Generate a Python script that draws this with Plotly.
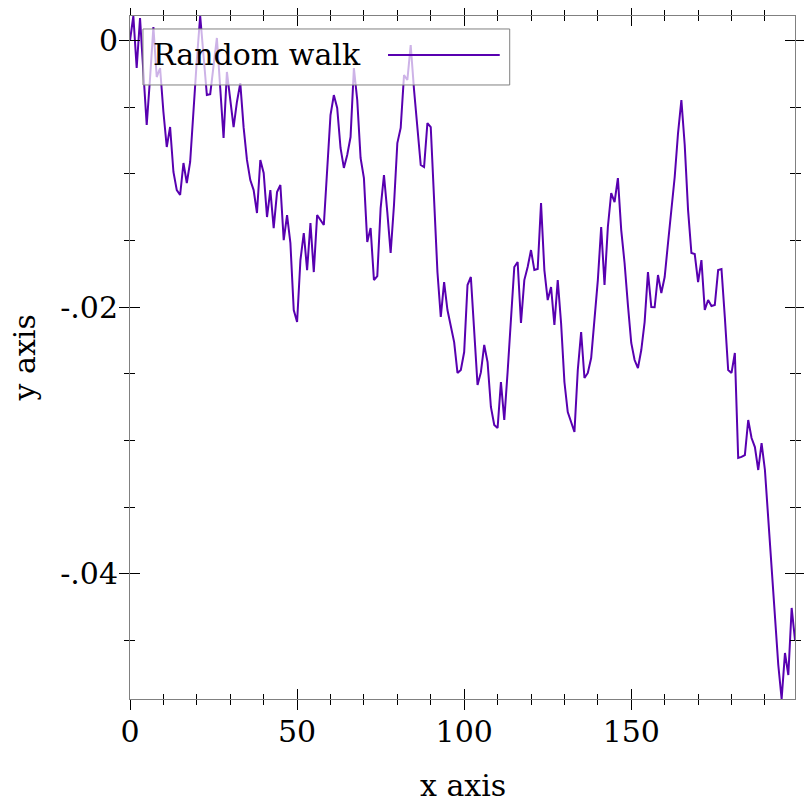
import plotly.graph_objects as go

# random walk, one value per step
walk = [
    0.0, 0.00184, -0.00206, 0.00169, -0.00236, -0.00634, -0.00281, 0.00101, -0.00274, -0.00206,
    -0.00536, -0.00799, -0.00649, -0.00986, -0.01122, -0.01159, -0.00919, -0.01069, -0.00911, -0.00484,
    -0.00146, 0.00184, -0.00131, -0.00409, -0.00402, -0.00184, 0.00019, -0.00356, -0.00731, -0.00236,
    -0.00431, -0.00649, -0.00461, -0.00319, -0.00652, -0.00896, -0.01047, -0.01122, -0.01294, -0.00896,
    -0.00994, -0.01324, -0.01122, -0.01407, -0.01137, -0.01084, -0.01497, -0.01309, -0.01519, -0.02022,
    -0.02112, -0.01647, -0.01444, -0.01722, -0.01369, -0.01737, -0.01309, -0.01347, -0.01384, -0.00971,
    -0.00559, -0.00409, -0.00506, -0.00806, -0.00956, -0.00859, -0.00724, -0.00206, -0.00446, -0.00881,
    -0.01032, -0.01512, -0.01407, -0.01797, -0.01767, -0.01257, -0.01009, -0.01287, -0.01594, -0.01234,
    -0.00769, -0.00656, -0.00259, -0.00296, -0.00034, -0.00371, -0.00686, -0.00934, -0.00949, -0.00619,
    -0.00649, -0.01240, -0.01737, -0.02074, -0.01812, -0.02022, -0.02134, -0.02262, -0.02494, -0.02472,
    -0.02337, -0.01834, -0.01774, -0.02194, -0.02584, -0.02490, -0.02284, -0.02412, -0.02749, -0.02884,
    -0.02907, -0.02562, -0.02847, -0.02487, -0.02112, -0.01699, -0.01662, -0.02119, -0.01797, -0.01699,
    -0.01572, -0.01722, -0.01714, -0.01219, -0.01722, -0.01947, -0.01849, -0.02134, -0.01797, -0.02119,
    -0.02562, -0.02787, -0.02862, -0.02937, -0.02472, -0.02187, -0.02532, -0.02494, -0.02382, -0.02119,
    -0.01797, -0.01399, -0.01834, -0.01399, -0.01144, -0.01212, -0.01032, -0.01422, -0.01669, -0.01984,
    -0.02269, -0.02397, -0.02457, -0.02322, -0.02112, -0.01737, -0.01999, -0.02001, -0.01759, -0.01894,
    -0.01774, -0.01519, -0.01272, -0.01024, -0.00694, -0.00446, -0.00784, -0.01272, -0.01594, -0.01602,
    -0.01812, -0.01647, -0.02022, -0.01947, -0.01992, -0.01984, -0.01722, -0.01714, -0.02074, -0.02472,
    -0.02494, -0.02344, -0.03132, -0.03124, -0.03110, -0.02847, -0.02982, -0.03050, -0.03222, -0.03020,
    -0.03222, -0.03597, -0.04010, -0.04310, -0.04685, -0.04940, -0.04595, -0.04760, -0.04257, -0.04497,
]
steps = list(range(len(walk)))

x_major = [0, 50, 100, 150]
x_major_text = ["0", "50", "100", "150"]
y_major = [0, -0.02, -0.04]
y_major_text = ["0", "-.02", "-.04"]

LINE = "rgb(88,0,176)"
FONT = dict(family="DejaVu Serif", size=30, color="black")

x_range = [steps[0], steps[-1]]
y_range = [min(walk), max(walk)]

fig = go.Figure()
fig.add_trace(go.Scatter(x=steps, y=walk, mode="lines",
                         line=dict(color=LINE, width=2),
                         showlegend=False, hoverinfo="skip"))
# invisible copy on overlay axes -> gives the inward half of every tick
fig.add_trace(go.Scatter(x=steps, y=walk, mode="lines", xaxis="x2", yaxis="y2",
                         line=dict(color=LINE, width=0), opacity=0,
                         showlegend=False, hoverinfo="skip"))


def axis(side_ticks, labels, rng, vals, text, minor_dtick):
    return dict(range=rng, automargin=False, showline=True, linecolor="gray",
                linewidth=1, mirror="allticks", ticks=side_ticks, ticklen=10,
                tickwidth=1, tickcolor="black", tickmode="array", tickvals=vals,
                ticktext=text, showticklabels=labels, tickfont=FONT,
                showgrid=False, zeroline=False,
                minor=dict(tick0=0, dtick=minor_dtick, ticks=side_ticks, ticklen=5,
                           tickwidth=1, tickcolor="black", showgrid=False))


xa = axis("outside", True, x_range, x_major, x_major_text, 10)
xa["ticklabelstandoff"] = -4
ya = axis("outside", True, y_range, y_major, y_major_text, 0.005)
ya["ticklabelstandoff"] = -5

# the page body adds 8px on the left and top, so the figure is sized to fit
fig.update_layout(
    width=804, height=804,
    margin=dict(l=122, r=17, t=8, b=113),
    paper_bgcolor="white", plot_bgcolor="white",
    font=FONT,
    xaxis=xa,
    yaxis=ya,
    xaxis2=dict(axis("inside", False, x_range, x_major, x_major_text, 10),
                overlaying="x", anchor="y2"),
    yaxis2=dict(axis("inside", False, y_range, y_major, y_major_text, 0.005),
                overlaying="y", anchor="x2"),
    showlegend=False,
)

# axis titles
fig.add_annotation(text="x axis", x=0.5, y=-0.126, xref="paper", yref="paper",
                   showarrow=False, yanchor="middle", font=FONT)
fig.add_annotation(text="y axis", x=-0.158, y=0.5, xref="paper", yref="paper",
                   showarrow=False, textangle=-90, xanchor="center", font=FONT)

# legend box drawn by hand: label on the left, line sample on the right
fig.add_shape(type="rect", xref="paper", yref="paper", x0=0.0195, x1=0.571,
              y0=0.899, y1=0.981, line=dict(color="gray", width=1),
              fillcolor="rgba(255,255,255,0.7)", layer="above")
fig.add_annotation(text="Random walk", x=0.032, y=0.943, xref="paper", yref="paper",
                   showarrow=False, xanchor="left", yanchor="middle", font=FONT)
fig.add_shape(type="line", xref="paper", yref="paper", x0=0.388, x1=0.556,
              y0=0.943, y1=0.943, line=dict(color=LINE, width=2), layer="above")

fig.write_html("out.html")
